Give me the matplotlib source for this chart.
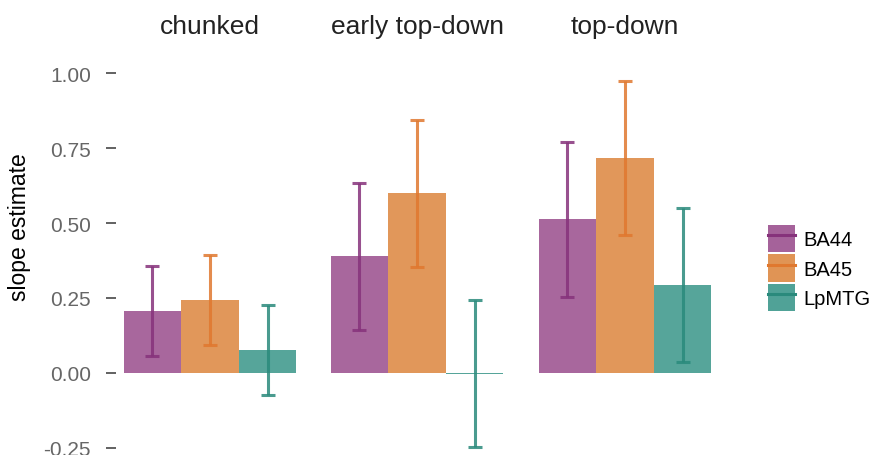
import numpy as np
import matplotlib.pyplot as plt
from matplotlib.patches import Patch
from matplotlib.lines import Line2D
from matplotlib.legend_handler import HandlerTuple

plt.rcParams['font.family'] = ['Liberation Sans', 'DejaVu Sans']

# slope estimates per condition and region
conditions = ['chunked', 'early top-down', 'top-down']
regions = ['BA44', 'BA45', 'LpMTG']
ba44 = [0.207, 0.389, 0.512]
ba45 = [0.244, 0.599, 0.716]
lpmtg = [0.077, -0.003, 0.294]
# half width of the error bars, shared within a condition
err_half = [0.151, 0.245, 0.257]

bar_colors = ['#a5629a', '#e09455', '#50a297']
err_colors = ['#86327b', '#e0782f', '#2a8a7c']

values = np.array([ba44, ba45, lpmtg])

W, H = 871, 456
fig = plt.figure(figsize=(W / 100, H / 100), dpi=100)

centers = [210, 417, 625]
ax_w = 188
y_top, y_bot = 62, 455
ylim = (-0.27, 1.04)

bw = 0.3
offs = np.array([-bw, 0, bw])
for i, cond in enumerate(conditions):
    left = (centers[i] - ax_w / 2) / W
    ax = fig.add_axes([left, (H - y_bot) / H, ax_w / W, (y_bot - y_top) / H])
    for j in range(3):
        v = values[j, i]
        ax.bar(offs[j], v, width=bw, color=bar_colors[j], alpha=0.97, zorder=1)
        ax.errorbar(offs[j], v, yerr=err_half[i], color=err_colors[j], lw=2.2,
                    capsize=5.2, capthick=2.2, alpha=0.85, zorder=2)
    ax.set_xlim(-0.49, 0.49)
    ax.set_ylim(*ylim)
    ax.set_xticks([])
    for s in ax.spines.values():
        s.set_visible(False)
    ax.set_title(cond, fontsize=19, color='#222222', pad=20)
    if i == 0:
        ax.set_yticks([-0.25, 0, 0.25, 0.5, 0.75, 1.0])
        ax.set_yticklabels(['-0.25', '0.00', '0.25', '0.50', '0.75', '1.00'])
        ax.tick_params(axis='y', length=7, width=1.3, color='#555555',
                       labelcolor='#666666', labelsize=15, pad=11)
        ax.set_ylabel('slope estimate', fontsize=16.5)
        # centre the label on the whole panel column, strip included
        ax.yaxis.set_label_coords((31 - 116) / ax_w, (y_bot - 227) / (y_bot - y_top))
    else:
        ax.set_yticks([])

handles = [(Patch(facecolor=bar_colors[j], edgecolor='none'),
            Line2D([], [], color=err_colors[j], lw=2.2))
           for j in range(3)]
fig.legend(handles, regions, loc='center left',
           bbox_to_anchor=(768 / W, 1 - 269 / H), frameon=False,
           fontsize=14.5, handlelength=1.32, handleheight=1.69,
           labelspacing=0.1, handletextpad=0.45, borderpad=0, borderaxespad=0,
           handler_map={tuple: HandlerTuple(ndivide=1, pad=0)})

fig.savefig('out.png', dpi=100)
